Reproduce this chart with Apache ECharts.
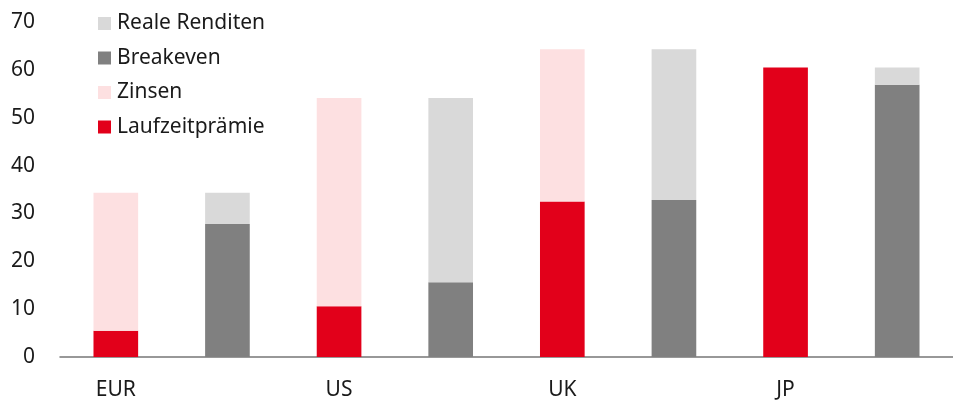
<!DOCTYPE html>
<html>
<head>
<meta charset="utf-8">
<script src="https://cdn.jsdelivr.net/npm/echarts@6/dist/echarts.min.js"></script>
<style>
  html, body { margin: 0; padding: 0; background: #fff; }
  #chart { width: 953px; height: 401px; }
</style>
</head>
<body>
<div id="chart"></div>
<script>
var countries = ['EUR', 'US', 'UK', 'JP'];
var laufzeit = [5.5, 10.6, 32.5, 60.5];
var zinsen = [28.8, 43.5, 31.8, 0];
var breakeven = [27.8, 15.6, 32.8, 56.9];
var realeRenditen = [6.5, 38.5, 31.5, 3.6];

// two bars per country: first one is Laufzeitprämie + Zinsen, second Breakeven + Reale Renditen
var categories = [];
countries.forEach(function (c) { categories.push(c, c + '_2'); });

function firstBar(vals) {
  var out = [];
  vals.forEach(function (v) { out.push(v, '-'); });
  return out;
}
function secondBar(vals) {
  var out = [];
  vals.forEach(function (v) { out.push('-', v); });
  return out;
}

var chart = echarts.init(document.getElementById('chart'));
var font = 'Noto Sans';

var option = {
  animation: false,
  grid: { left: 60, right: 0, top: 22, bottom: 43.5 },
  legend: {
    orient: 'vertical',
    left: 93,
    top: 8,
    icon: 'rect',
    itemWidth: 13,
    itemHeight: 13,
    itemGap: 13.5,
    data: ['Reale Renditen', 'Breakeven', 'Zinsen', 'Laufzeitprämie'],
    textStyle: { fontFamily: font, fontSize: 21, color: '#1a1a1a', padding: [0, 0, 0, 1] }
  },
  xAxis: {
    type: 'category',
    data: categories,
    axisTick: { show: false },
    axisLine: { lineStyle: { color: '#777', width: 1.5 } },
    axisLabel: {
      interval: 0,
      margin: 23,
      fontFamily: font,
      fontSize: 21,
      color: '#1a1a1a',
      formatter: function (v) { return v.indexOf('_') >= 0 ? '' : v; }
    }
  },
  yAxis: {
    type: 'value',
    min: 0,
    max: 70,
    interval: 10,
    splitLine: { show: false },
    axisLine: { show: false },
    axisTick: { show: false },
    axisLabel: { margin: 25, fontFamily: font, fontSize: 21, color: '#1a1a1a' }
  },
  series: [
    { name: 'Laufzeitprämie', type: 'bar', stack: 'a', barWidth: '40%',
      itemStyle: { color: '#e2001a' }, data: firstBar(laufzeit) },
    { name: 'Zinsen', type: 'bar', stack: 'a',
      itemStyle: { color: '#fde0e1' }, data: firstBar(zinsen) },
    { name: 'Breakeven', type: 'bar', stack: 'a',
      itemStyle: { color: '#808080' }, data: secondBar(breakeven) },
    { name: 'Reale Renditen', type: 'bar', stack: 'a',
      itemStyle: { color: '#d9d9d9' }, data: secondBar(realeRenditen) }
  ]
};

chart.setOption(option);
</script>
</body>
</html>
